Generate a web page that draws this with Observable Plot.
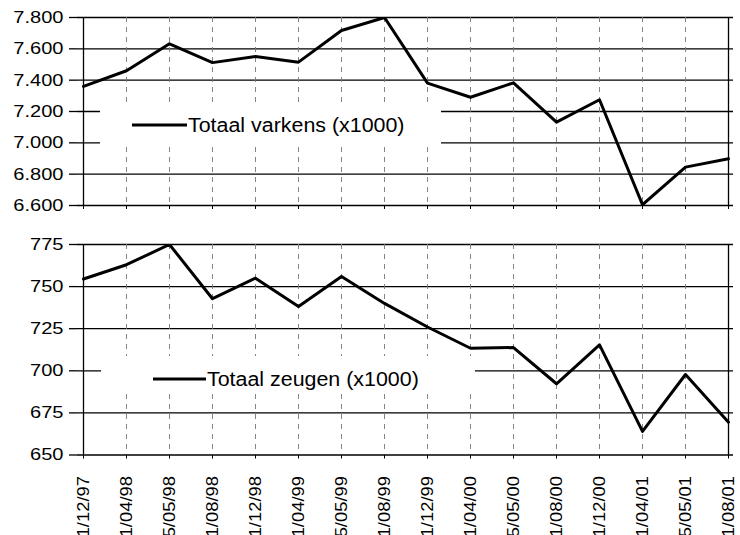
<!DOCTYPE html>
<html><head><meta charset="utf-8">
<script src="https://cdn.jsdelivr.net/npm/d3@7"></script>
<script src="https://cdn.jsdelivr.net/npm/@observablehq/plot@0.6"></script>
<style>
html,body{margin:0;padding:0;background:#fff;overflow:hidden;}
#chart{width:740px;height:535px;position:relative;overflow:hidden;}
#chart svg{display:block;overflow:visible;}
</style></head><body><div id="chart"></div>
<script>
const dates = ["01/12/97","01/04/98","15/05/98","01/08/98","01/12/98","01/04/99","15/05/99","01/08/99",
               "01/12/99","01/04/00","15/05/00","01/08/00","01/12/00","01/04/01","15/05/01","01/08/01"];
const pigs = [7360, 7460, 7632, 7512, 7551, 7515, 7717, 7800, 7381, 7291, 7383, 7132, 7275, 6605, 6845, 6898];
const sows = [754.5, 763, 775, 742.8, 755, 738.2, 756, 740, 726, 713.4, 713.8, 692.3, 715.4, 664, 697.8, 669.5];
const pigTicks = [6600, 6800, 7000, 7200, 7400, 7600, 7800];
const sowTicks = [650, 675, 700, 725, 750, 775];
const pigLabel = "Totaal varkens (x1000)";
const sowLabel = "Totaal zeugen (x1000)";

const nl = d3.formatLocale({decimal: ",", thousands: ".", grouping: [3], currency: ["€", ""]});
const fmt = nl.format(",");

const pigData = dates.map((d, i) => ({date: d, value: pigs[i]}));
const sowData = dates.map((d, i) => ({date: d, value: sows[i]}));

function panel({data, ticks, height, marginTop, marginBottom, showLabels}) {
  return Plot.plot({
    width: 740, height, marginLeft: 77, marginRight: 7, marginTop, marginBottom,
    style: {fontFamily: "'Liberation Sans', Arial, Helvetica, sans-serif", fontSize: "17px", color: "#000", background: "transparent", overflow: "visible"},
    x: {type: "point", domain: dates, padding: 0, label: null},
    y: {domain: [ticks[0], ticks[ticks.length - 1]], label: null},
    marks: [
      Plot.ruleY(ticks, {stroke: "#000", strokeWidth: 1.3}),
      Plot.ruleX(dates, {stroke: "#777", strokeDasharray: "5,5", strokeWidth: 0.9}),
      Plot.ruleX([dates[0], dates[dates.length - 1]], {stroke: "#000", strokeWidth: 1.3}),
      Plot.axisY({ticks, tickFormat: fmt, tickSize: 8, tickPadding: 6, fontSize: 17, label: null, strokeWidth: 1.3}),
      Plot.axisX({tickSize: 4, tickPadding: 17, fontSize: 16, label: null,
                  tickRotate: showLabels ? -90 : 0,
                  tickFormat: showLabels ? (d => d) : (() => "")}),
      Plot.line(data, {x: "date", y: "value", stroke: "#000", strokeWidth: 3, clip: true})
    ]
  });
}

const chart = document.getElementById("chart");
const topPanel = panel({data: pigData, ticks: pigTicks, height: 225, marginTop: 17, marginBottom: 20, showLabels: false});
const bottomPanel = panel({data: sowData, ticks: sowTicks, height: 310, marginTop: 19, marginBottom: 80.5, showLabels: true});
chart.appendChild(topPanel);
chart.appendChild(bottomPanel);

function addLegend(svg, box, lineX1, lineX2, y, label) {
  const g = d3.select(svg).append("g");
  g.append("rect").attr("x", box[0]).attr("y", box[1]).attr("width", box[2]).attr("height", box[3]).attr("fill", "#fff");
  g.append("line").attr("x1", lineX1).attr("x2", lineX2).attr("y1", y).attr("y2", y)
    .attr("stroke", "#000").attr("stroke-width", 3);
  g.append("text").attr("x", lineX2 + 1).attr("y", y).attr("dy", "0.35em")
    .attr("text-anchor", "start")
    .attr("font-size", 20).attr("fill", "#000").attr("class", "legend-text")
    .attr("font-family", "'Liberation Sans', Arial, Helvetica, sans-serif").text(label);
}
addLegend(topPanel, [100, 106, 341, 40], 132, 187, 125, pigLabel);
addLegend(bottomPanel, [101, 131, 374, 36], 153, 206, 154, sowLabel);

// stretch glyphs to match the wide lettering of the original
for (const svg of [topPanel, bottomPanel]) {
  svg.querySelectorAll("text").forEach(t => {
    if (!t.textContent) { t.remove(); return; }
    const len = t.getComputedTextLength();
    const f = t.classList.contains("legend-text") ? 1.07 : (t.closest("[aria-label='x-axis tick label']") ? 1.15 : 1.18);
    t.setAttribute("textLength", len * f);
    t.setAttribute("lengthAdjust", "spacingAndGlyphs");
  });
}
</script></body></html>
